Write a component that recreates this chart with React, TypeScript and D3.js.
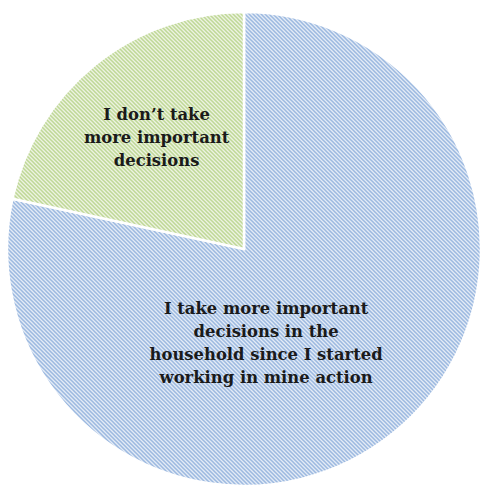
import { useEffect, useRef } from 'react';
import * as d3 from 'd3';

const labels = [
  'I take more important decisions in the household since I started working in mine action',
  'I don’t take more important decisions'
];
const values = [78.4, 21.6];
const labelLines = [
  ['I take more important', 'decisions in the', 'household since I started', 'working in mine action'],
  ['I don’t take', 'more important', 'decisions']
];

export default function App() {
  const svgRef = useRef<SVGSVGElement>(null);

  useEffect(() => {
    document.body.style.margin = '0';
    if (!svgRef.current) return;
    const svg = d3.select(svgRef.current);
    svg.selectAll('*').remove();

    const width = 481;
    const height = 487;
    const cx = 244;
    const cy = 249;
    const radius = 237;

    svg.attr('width', width).attr('height', height);

    // hatch fills
    const fills = [
      { id: 'hatch-blue', bg: '#e3ebf6', fg: '#9cb9e0' },
      { id: 'hatch-green', bg: '#edf3e1', fg: '#bfd896' }
    ];
    const defs = svg.append('defs');
    fills.forEach((f) => {
      const p = defs
        .append('pattern')
        .attr('id', f.id)
        .attr('patternUnits', 'userSpaceOnUse')
        .attr('width', 4)
        .attr('height', 4);
      p.append('rect').attr('width', 4).attr('height', 4).attr('fill', f.bg);
      p.append('path')
        .attr('d', 'M-1,-1 L5,5 M-1,3 L1,5 M3,-1 L5,1')
        .attr('stroke', f.fg)
        .attr('stroke-width', 1.5);
    });

    const pie = d3
      .pie<number>()
      .sort(null)
      .value((d) => d);
    const arcs = pie(values);
    const arc = d3.arc<d3.PieArcDatum<number>>().innerRadius(0).outerRadius(radius);

    const g = svg.append('g').attr('transform', `translate(${cx},${cy})`);

    g.selectAll('path.slice')
      .data(arcs)
      .enter()
      .append('path')
      .attr('class', 'slice')
      .attr('d', arc)
      .attr('fill', (_, i) => `url(#${fills[i].id})`)
      .attr('stroke', '#ffffff')
      .attr('stroke-width', 2.5)
      .append('title')
      .text((_, i) => labels[i]);

    // label placement (polar offsets from centre)
    const labelPos = [
      { r: 96, a: (166.7 * Math.PI) / 180 },
      { r: 142, a: (322 * Math.PI) / 180 }
    ];
    const lineH = 23;

    arcs.forEach((_, i) => {
      const lx = labelPos[i].r * Math.sin(labelPos[i].a);
      const ly = -labelPos[i].r * Math.cos(labelPos[i].a);
      const lines = labelLines[i];
      const t = g
        .append('text')
        .attr('text-anchor', 'middle')
        .attr('font-family', '"DejaVu Serif", serif')
        .attr('font-weight', 'bold')
        .attr('font-size', 16.4)
        .attr('fill', '#1a1a1a');
      lines.forEach((ln, j) => {
        t.append('tspan')
          .attr('x', lx)
          .attr('y', ly + (j - (lines.length - 1) / 2) * lineH + 6)
          .text(ln);
      });
    });
  }, []);

  return <svg ref={svgRef} style={{ display: 'block' }} />;
}
